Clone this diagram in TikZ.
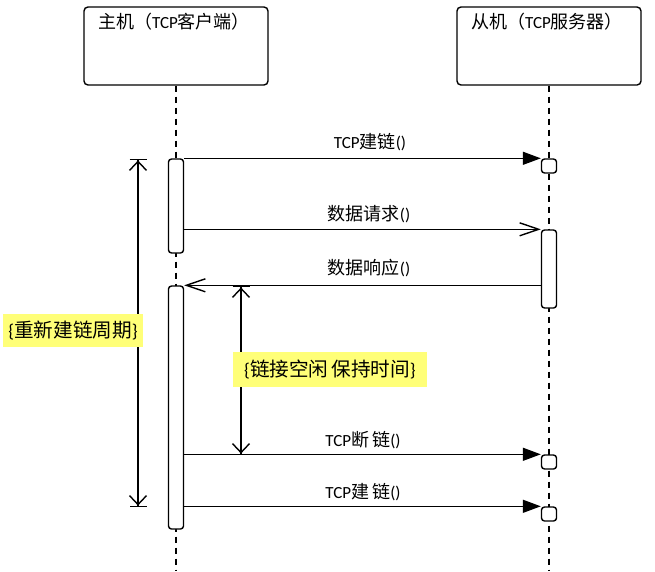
\documentclass[tikz,border=0pt]{standalone}
\usepackage{fontspec}
\setmainfont{Carlito}
\newfontfamily\cjk[Scale=1.06]{Noto Sans CJK SC}
\usetikzlibrary{arrows.meta,calc}
\definecolor{hl}{RGB}{255,255,120}
\begin{document}
\begin{tikzpicture}[x=1pt,y=-1pt,
  every node/.style={font=\fontsize{17}{20}\selectfont, inner sep=0pt},
  objbox/.style={draw, line width=1.4pt, rounded corners=4pt, minimum width=184pt, minimum height=78pt},
  actbar/.style={draw, fill=white, line width=1.4pt, rounded corners=3pt, minimum width=15pt},
  lifeline/.style={line width=1.2pt, dash pattern=on 6pt off 5pt},
  msgfilled/.style={line width=1.4pt, -{Triangle[length=18pt,width=13pt]}},
  msgopen/.style={line width=1.4pt, -{Straight Barb[length=19pt,width=13pt]}},
  spanarrow/.style={line width=1.4pt,
    {Bar[width=17pt]Straight Barb[length=9pt,width=17pt]}-{Straight Barb[length=9pt,width=17pt]Bar[width=17pt]}},
  hlnote/.style={fill=hl, font=\fontsize{18.5}{22}\selectfont},
  msglabel/.style={font=\fontsize{17}{20}\selectfont}
]
\useasboundingbox (0,0) rectangle (655,571);

% object boxes
\node[objbox] (host) at (176,46) {};
\node[objbox] (slave) at (549,46) {};
\node (hosttitle) at (174,22) {{\cjk 主机（}TCP{\cjk 客户端）}};
\node (slavetitle) at (547,22) {{\cjk 从机（}TCP{\cjk 服务器）}};

% lifelines
\coordinate (hostend) at (176,571);
\coordinate (slaveend) at (549,571);
\draw[lifeline] (host.south) -- (hostend);
\draw[lifeline] (slave.south) -- (slaveend);

% activation bars
\node[actbar, minimum height=94pt] (hbar1) at (176,206) {};
\node[actbar, minimum height=243pt] (hbar2) at (176,407.5) {};
\node[actbar, minimum height=78pt] (sbar) at (549,269) {};
\node[actbar, minimum height=14pt] (sbox1) at (549,166) {};
\node[actbar, minimum height=14pt] (sbox2) at (549,462) {};
\node[actbar, minimum height=14pt] (sbox3) at (549,514) {};

% messages
\draw[msgfilled] (hbar1.north east) -- (sbox1.north west);
\node[msglabel] (m1) at (370,142) {TCP{\cjk 建链}()};

\coordinate (m2s) at (hbar1.east |- sbar.north);
\draw[msgopen] (m2s) -- (sbar.north west);
\node[msglabel] (m2) at (369,214) {{\cjk 数据请求}()};

\coordinate (m3s) at (sbar.west |- hbar2.north);
\draw[msgopen] (m3s) -- (hbar2.north east);
\node[msglabel] (m3) at (369,268) {{\cjk 数据响应}()};

\coordinate (m4s) at (hbar2.east |- sbox2.north);
\draw[msgfilled] (m4s) -- (sbox2.north west);
\node[msglabel] (m4) at (363,440) {TCP{\cjk 断\,链}()};

\coordinate (m5s) at (hbar2.east |- sbox3.north);
\draw[msgfilled] (m5s) -- (sbox3.north west);
\node[msglabel] (m5) at (363,492) {TCP{\cjk 建\,链}()};

% span arrows
\coordinate (cyctop) at (138,159);
\coordinate (cycbot) at (138,507);
\draw[spanarrow] (cyctop) -- (cycbot);
\coordinate (idletop) at (241,286);
\coordinate (idlebot) at (241,455);
\draw[spanarrow] (idletop) -- (idlebot);

% notes
\node[hlnote, minimum width=140pt, minimum height=33pt] (cycle) at (73,330.5) {\{{\cjk 重新建链周期}\}};
\node[hlnote, minimum width=194pt, minimum height=35pt] (idle) at (330,369.5) {\{{\cjk 链接空闲\hspace{3pt}保持时间}\}};
\end{tikzpicture}
\end{document}
